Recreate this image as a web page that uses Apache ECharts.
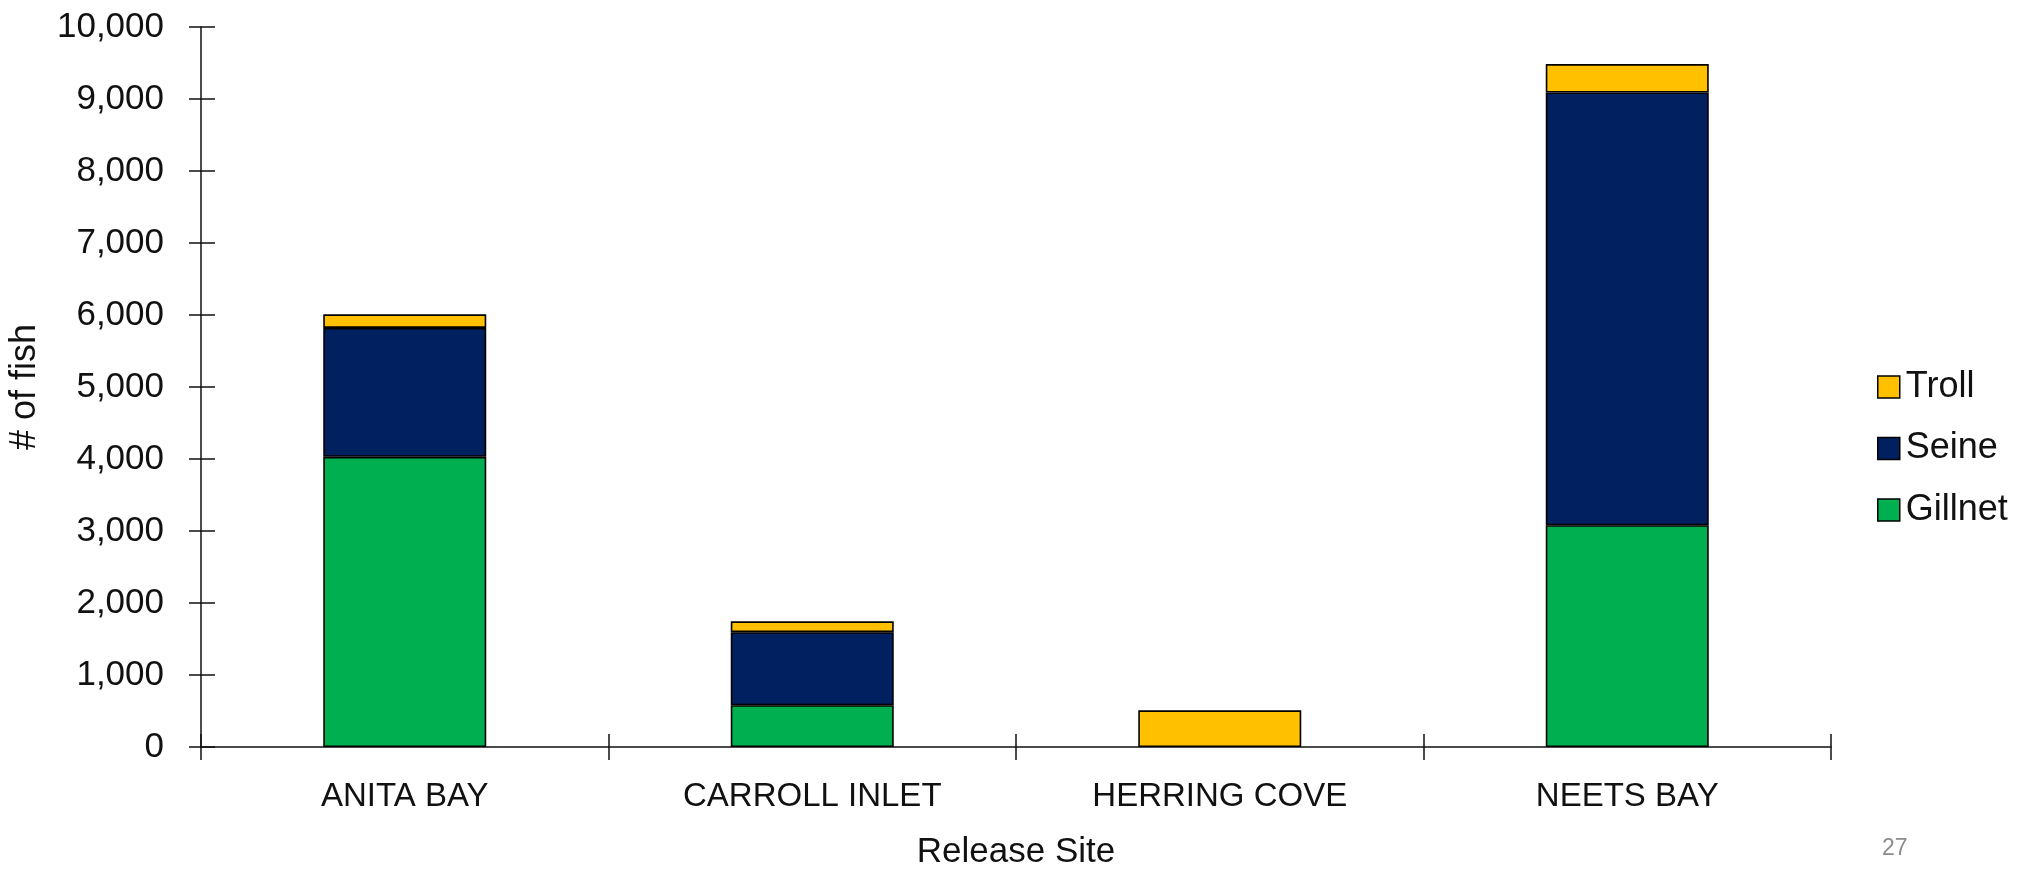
<!DOCTYPE html>
<html>
<head>
<meta charset="utf-8">
<title>Release Site catch by gear</title>
<script src="https://cdn.jsdelivr.net/npm/echarts@6/dist/echarts.min.js"></script>
<style>
  html, body { margin: 0; padding: 0; background: #ffffff; }
  #chart { width: 2030px; height: 869px; }
</style>
</head>
<body>
<div id="chart"></div>
<script>
// Release sites along the x axis
const sites = ['ANITA BAY', 'CARROLL INLET', 'HERRING COVE', 'NEETS BAY'];

// Number of fish per gear type at each release site
const gillnet = [4030, 580, null, 3080];
const seine = [1790, 1015, null, 6010];
const troll = [190, 150, 510, 395];

// Value axis range
const yMin = 0;
const yMax = 10000;
const yStep = 1000;

const FONT = '"Liberation Sans", Arial, sans-serif';
const INK = '#111111';

// Plot area in pixels
const GRID = { left: 201, right: 199, top: 27, bottom: 122 };
const PLOT_W = 2030 - GRID.left - GRID.right;
const PLOT_H = 869 - GRID.top - GRID.bottom;

const chart = echarts.init(document.getElementById('chart'), null, { renderer: 'canvas' });

const barStyle = (color) => ({ color: color, borderColor: '#000000', borderWidth: 1.6 });
const tickLine = { color: INK, width: 1.5 };

chart.setOption({
  animation: false,
  backgroundColor: '#ffffff',
  textStyle: { fontFamily: FONT },
  grid: Object.assign({ containLabel: false, outerBoundsMode: 'none' }, GRID),
  legend: {
    orient: 'vertical',
    left: 1872,
    top: 364,
    itemWidth: 22,
    itemHeight: 22,
    itemGap: 25.5,
    icon: 'rect',
    data: ['Troll', 'Seine', 'Gillnet'],
    itemStyle: { borderColor: '#000000', borderWidth: 1.5 },
    textStyle: { fontFamily: FONT, fontSize: 36, color: INK, lineHeight: 36, padding: [0, 0, 0, 1] }
  },
  xAxis: [
    {
      type: 'category',
      data: sites,
      boundaryGap: true,
      name: 'Release Site',
      nameLocation: 'middle',
      nameGap: 88,
      nameTextStyle: { fontFamily: FONT, fontSize: 35, color: INK },
      axisLine: { lineStyle: { color: INK, width: 1.5 } },
      axisTick: { show: true, length: 13, alignWithLabel: false, lineStyle: tickLine },
      axisLabel: { fontFamily: FONT, fontSize: 33, color: INK, margin: 33 },
      splitLine: { show: false }
    },
    {
      // upper half of the crossing ticks on the category axis
      type: 'category',
      data: sites,
      position: 'top',
      offset: -PLOT_H,
      boundaryGap: true,
      axisLine: { show: false },
      axisTick: { show: true, inside: false, length: 13, alignWithLabel: false, lineStyle: tickLine },
      axisLabel: { show: false },
      splitLine: { show: false }
    }
  ],
  yAxis: [
    {
      type: 'value',
      min: yMin,
      max: yMax,
      interval: yStep,
      name: '# of fish',
      nameLocation: 'middle',
      nameRotate: 90,
      nameGap: 158,
      nameTextStyle: { fontFamily: FONT, fontSize: 36, color: INK },
      axisLine: { show: true, lineStyle: { color: INK, width: 1.5 } },
      axisTick: { show: true, length: 12, lineStyle: tickLine },
      axisLabel: {
        fontFamily: FONT, fontSize: 35, color: INK, margin: 37,
        formatter: (v) => v.toLocaleString('en-US')
      },
      splitLine: { show: false }
    },
    {
      // right half of the crossing ticks on the value axis
      type: 'value',
      min: yMin,
      max: yMax,
      interval: yStep,
      position: 'right',
      offset: -PLOT_W,
      axisLine: { show: false },
      axisTick: { show: true, inside: false, length: 14, lineStyle: tickLine },
      axisLabel: { show: false },
      splitLine: { show: false }
    }
  ],
  series: [
    { name: 'Gillnet', type: 'bar', stack: 'catch', data: gillnet, barWidth: 163, itemStyle: barStyle('#00B050') },
    { name: 'Seine', type: 'bar', stack: 'catch', data: seine, barWidth: 163, itemStyle: barStyle('#002060') },
    { name: 'Troll', type: 'bar', stack: 'catch', data: troll, barWidth: 163, itemStyle: barStyle('#FFC000') }
  ],
  graphic: [
    {
      type: 'text',
      left: 1882,
      top: 837,
      style: { text: '27', fontFamily: FONT, fontSize: 23, fill: '#8c8c8c' }
    }
  ]
});
</script>
</body>
</html>
